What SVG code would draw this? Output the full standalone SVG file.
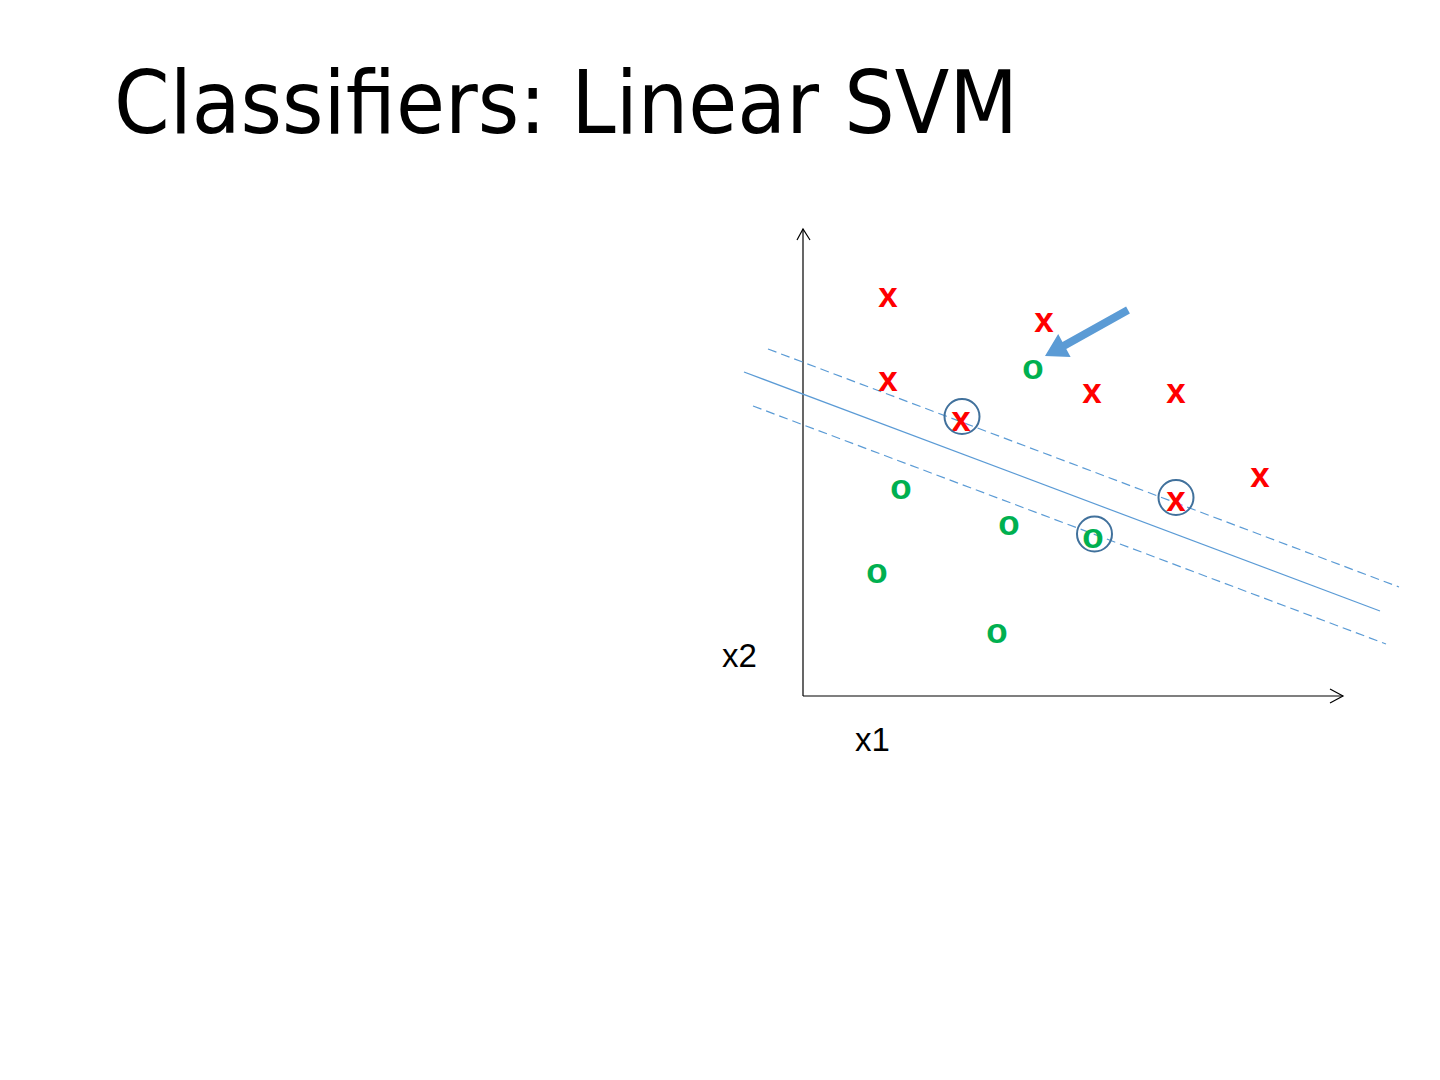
<svg xmlns="http://www.w3.org/2000/svg" width="1440" height="1080" viewBox="0 0 1440 1080">
<style>
.title{font-family:"DejaVu Sans Condensed","DejaVu Sans",sans-serif;font-size:88px;fill:#000}
.lbl{font-family:"Liberation Sans",Arial,sans-serif;font-size:33px;fill:#000}
.x{font-family:"Liberation Sans",Arial,sans-serif;font-weight:bold;font-size:35px;fill:#FF0000;text-anchor:middle}
.o{font-family:"Liberation Sans",Arial,sans-serif;font-weight:bold;font-size:35px;fill:#00B050;text-anchor:middle}
.axis{stroke:#000;stroke-width:1.2;fill:none}
.hyper{stroke:#5B9BD5;stroke-width:1.2;fill:none}
.margin{stroke:#5B9BD5;stroke-width:1.2;fill:none;stroke-dasharray:9 5}
.sv{fill:none;stroke:#41719C;stroke-width:2}
</style>
<rect width="1440" height="1080" fill="#fff"/>
<text id="title" class="title" x="114" y="133" textLength="904" lengthAdjust="spacingAndGlyphs">Classifiers: Linear SVM</text>
<g id="axes">
<line class="axis" x1="803" y1="696" x2="803" y2="229"/>
<polyline class="axis" points="797,240 803,229 810,240"/>
<line class="axis" x1="803" y1="696" x2="1343" y2="696"/>
<polyline class="axis" points="1330,689 1343,696 1330,703"/>
</g>
<g id="connectors">
<line class="hyper" x1="744" y1="372" x2="1380" y2="611"/>
<line class="margin" x1="768" y1="349" x2="1399" y2="587"/>
<line class="margin" x1="753" y1="406" x2="1386" y2="644"/>
<polygon id="pointer" fill="#5B9BD5" points="1126.1,306.5 1062.5,342 1058.2,334 1045,356 1070.6,357 1066.3,349 1129.9,313.5"/>
</g>
<g id="labels">
<text class="lbl" x="722" y="667">x2</text>
<text class="lbl" x="855" y="751">x1</text>
</g>
<g id="class-x">
<text class="x" x="888" y="307">x</text>
<text class="x" x="1044" y="332">x</text>
<text class="x" x="888" y="391">x</text>
<text class="x" x="1092" y="403">x</text>
<text class="x" x="1176" y="403">x</text>
<text class="x" x="961" y="431">x</text>
<text class="x" x="1260" y="487">x</text>
<text class="x" x="1176" y="511">x</text>
</g>
<g id="class-o">
<text class="o" x="1033" y="379">o</text>
<text class="o" x="901" y="499">o</text>
<text class="o" x="1009" y="535">o</text>
<text class="o" x="1093" y="548">o</text>
<text class="o" x="877" y="583">o</text>
<text class="o" x="997" y="643">o</text>
</g>
<g id="support-vectors">
<circle class="sv" cx="962" cy="416.5" r="17.5"/>
<circle class="sv" cx="1176" cy="497.5" r="17.5"/>
<circle class="sv" cx="1094.5" cy="534" r="17.5"/>
</g>
</svg>
